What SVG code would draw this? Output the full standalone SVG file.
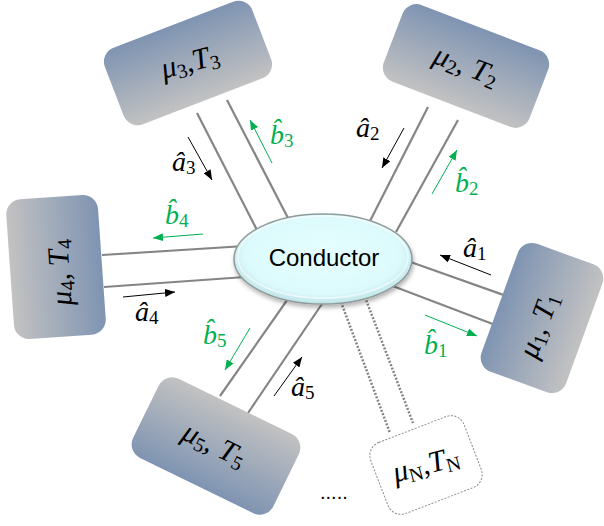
<svg xmlns="http://www.w3.org/2000/svg" width="604" height="526" viewBox="0 0 604 526">
<defs>
<linearGradient id="gTB" x1="0" y1="0" x2="0" y2="1"><stop offset="0" stop-color="#7f94b2"/><stop offset="1" stop-color="#c2c2c2"/></linearGradient>
<linearGradient id="gBT" x1="0" y1="1" x2="0" y2="0"><stop offset="0" stop-color="#7f94b2"/><stop offset="1" stop-color="#c2c2c2"/></linearGradient>
<linearGradient id="gLR" x1="0" y1="0" x2="1" y2="0"><stop offset="0" stop-color="#7f94b2"/><stop offset="1" stop-color="#c2c2c2"/></linearGradient>
<linearGradient id="gRL" x1="1" y1="0" x2="0" y2="0"><stop offset="0" stop-color="#7f94b2"/><stop offset="1" stop-color="#c2c2c2"/></linearGradient>
<radialGradient id="gEl" cx="0.5" cy="0.45" r="0.55"><stop offset="0" stop-color="#e6ffff"/><stop offset="0.8" stop-color="#dcfafc"/><stop offset="1" stop-color="#bfe3e6"/></radialGradient>
<filter id="sh" x="-20%" y="-20%" width="140%" height="150%"><feDropShadow dx="1" dy="3" stdDeviation="2" flood-color="#000" flood-opacity="0.3"/></filter>
<marker id="mk" viewBox="0 0 10 8" refX="10" refY="4" markerWidth="10" markerHeight="8" markerUnits="userSpaceOnUse" orient="auto"><path d="M0,0 L10,4 L0,8 Z" fill="#000"/></marker>
<marker id="mg" viewBox="0 0 10 8" refX="10" refY="4" markerWidth="10" markerHeight="8" markerUnits="userSpaceOnUse" orient="auto"><path d="M0,0 L10,4 L0,8 Z" fill="#00b050"/></marker>
</defs>
<style>
.lead{stroke:#858585;stroke-width:2.2;fill:none}
.dot{stroke:#858585;stroke-width:2.5;stroke-dasharray:2 1.6;fill:none}
.ab{stroke:#000;stroke-width:1;marker-end:url(#mk)}
.ag{stroke:#00b050;stroke-width:1;marker-end:url(#mg)}
.m{font-family:"Liberation Serif","DejaVu Serif",serif;font-style:italic;font-size:30px;fill:#000}
.s{font-style:normal;font-size:20px}
.lb{font-family:"Liberation Serif","DejaVu Serif",serif;font-style:italic;font-size:28px}
.ls{font-style:normal;font-size:19px}
.k{fill:#000}
.gr{fill:#00b050}
.box{stroke:none}
</style>
<g id="connectors">
<line class="lead" x1="197" y1="113" x2="257" y2="230"/>
<line class="lead" x1="227" y1="100" x2="289" y2="220"/>
<line class="lead" x1="428" y1="107" x2="370" y2="221"/>
<line class="lead" x1="458" y1="120" x2="396" y2="232"/>
<line class="lead" x1="102" y1="255" x2="245" y2="246"/>
<line class="lead" x1="104" y1="287" x2="245" y2="277"/>
<line class="lead" x1="405" y1="260" x2="512" y2="298"/>
<line class="lead" x1="390" y1="285" x2="498" y2="326"/>
<line class="lead" x1="290" y1="296" x2="220" y2="396"/>
<line class="lead" x1="326" y1="298" x2="248" y2="413"/>
<line class="dot" x1="341" y1="302" x2="390" y2="433"/>
<line class="dot" x1="365" y1="297" x2="413" y2="423"/>
<line class="ab" x1="491" y1="275" x2="440" y2="255"/>
<line class="ag" x1="425" y1="315" x2="477" y2="336"/>
<line class="ab" x1="404" y1="128" x2="382" y2="168"/>
<line class="ag" x1="432" y1="194" x2="457" y2="150"/>
<line class="ab" x1="188" y1="137" x2="212" y2="180"/>
<line class="ag" x1="272" y1="163" x2="250" y2="120"/>
<line class="ag" x1="203" y1="234" x2="153" y2="238"/>
<line class="ab" x1="123" y1="297" x2="175" y2="292"/>
<line class="ag" x1="250" y1="328" x2="225" y2="370"/>
<line class="ab" x1="274" y1="396" x2="302" y2="357"/>
<text class="lb k" x="463" y="257">â<tspan class="ls" dy="3">1</tspan></text>
<text class="lb gr" x="424" y="354">b&#x302;<tspan class="ls" dy="3">1</tspan></text>
<text class="lb k" x="356" y="137">â<tspan class="ls" dy="3">2</tspan></text>
<text class="lb gr" x="455" y="192">b&#x302;<tspan class="ls" dy="3">2</tspan></text>
<text class="lb k" x="172" y="171">â<tspan class="ls" dy="3">3</tspan></text>
<text class="lb gr" x="270" y="144">b&#x302;<tspan class="ls" dy="3">3</tspan></text>
<text class="lb gr" x="165" y="224">b&#x302;<tspan class="ls" dy="3">4</tspan></text>
<text class="lb k" x="135" y="321">â<tspan class="ls" dy="3">4</tspan></text>
<text class="lb gr" x="203" y="344">b&#x302;<tspan class="ls" dy="3">5</tspan></text>
<text class="lb k" x="291" y="396">â<tspan class="ls" dy="3">5</tspan></text>
</g>
<g id="conductor">
<ellipse cx="323" cy="259" rx="89" ry="45" fill="url(#gEl)" stroke="#8f9a9b" stroke-width="1.5" filter="url(#sh)"/>
<ellipse cx="323" cy="257" rx="85" ry="41" fill="none" stroke="#ffffff" stroke-opacity="0.6" stroke-width="1.5"/>
<text x="324" y="266" text-anchor="middle" font-family="Liberation Sans, Arial, sans-serif" font-size="24" fill="#000">Conductor</text>
</g>
<g id="reservoir3" transform="translate(188,63) rotate(-21)">
<rect class="box" x="-79" y="-41" width="158" height="82" rx="15" fill="url(#gTB)"/>
<text class="m" transform="rotate(6)" x="2" y="9" text-anchor="middle">μ<tspan class="s" dy="4">3</tspan><tspan dy="-4">,T</tspan><tspan class="s" dy="4">3</tspan></text>
</g>
<g id="reservoir2" transform="translate(466,66) rotate(21)">
<rect class="box" x="-78" y="-41" width="156" height="82" rx="15" fill="url(#gTB)"/>
<text class="m" x="0" y="9" text-anchor="middle">μ<tspan class="s" dy="4">2</tspan><tspan dy="-4">, T</tspan><tspan class="s" dy="4">2</tspan></text>
</g>
<g id="reservoir4" transform="translate(56,267) rotate(-4)">
<rect class="box" x="-46" y="-70" width="92" height="140" rx="15" fill="url(#gRL)"/>
<text class="m" transform="translate(4,6) rotate(-90)" x="0" y="9" text-anchor="middle">μ<tspan class="s" dy="4">4</tspan><tspan dy="-4">, T</tspan><tspan class="s" dy="4">4</tspan></text>
</g>
<g id="reservoir1" transform="translate(542,318) rotate(20)">
<rect class="box" x="-45" y="-68" width="90" height="136" rx="15" fill="url(#gLR)"/>
<text class="m" transform="translate(0,8) rotate(-90)" x="0" y="9" text-anchor="middle">μ<tspan class="s" dy="4">1</tspan><tspan dy="-4">, T</tspan><tspan class="s" dy="4">1</tspan></text>
</g>
<g id="reservoir5" transform="translate(216,446) rotate(26)">
<rect class="box" x="-78" y="-44" width="156" height="88" rx="15" fill="url(#gBT)"/>
<text class="m" x="-2" y="9" text-anchor="middle">μ<tspan class="s" dy="4">5</tspan><tspan dy="-4">, T</tspan><tspan class="s" dy="4">5</tspan></text>
</g>
<g id="reservoirN" transform="translate(426,465) rotate(-21)">
<rect x="-50" y="-38" width="100" height="76" rx="14" fill="#fff" stroke="#8a8a8a" stroke-width="1" stroke-dasharray="2 1.5"/>
<text class="m" transform="rotate(6)" x="0" y="9" text-anchor="middle">μ<tspan class="s" dy="4">N</tspan><tspan dy="-4">,T</tspan><tspan class="s" dy="4">N</tspan></text>
</g>
<text x="320" y="499" font-family="Liberation Sans, Arial, sans-serif" font-size="20" fill="#000">.....</text>
</svg>
